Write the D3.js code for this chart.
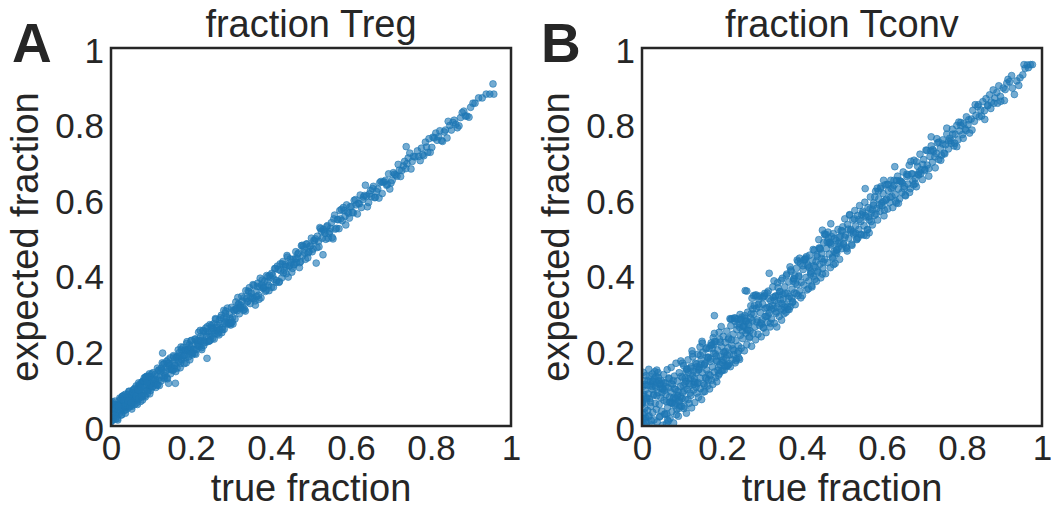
<!DOCTYPE html>
<html>
<head>
<meta charset="utf-8">
<script src="https://cdn.jsdelivr.net/npm/d3@7"></script>
<style>
  html, body { margin: 0; padding: 0; background: #ffffff; }
  svg { display: block; }
  text { font-family: "Liberation Sans", Arial, sans-serif; fill: #262626; }
</style>
</head>
<body>
<svg id="chart" width="1051" height="509"></svg>
<script>
// ---------- data ----------
const panelLetters = ["A", "B"];
const panelTitles = ["fraction Treg", "fraction Tconv"];
const xLabel = "true fraction";
const yLabel = "expected fraction";
const tickValues = [0, 0.2, 0.4, 0.6, 0.8, 1];
const tickLabels = ["0", "0.2", "0.4", "0.6", "0.8", "1"];

// panel A: [true fraction, expected fraction]
const tregPoints = [
[.001,.012],[.003,.049],[.004,.033],[.006,.057],[.007,.023],[.009,.043],[.011,.018],[.012,.055],
[.014,.036],[.016,.048],[.017,.016],[.019,.057],[.021,.033],[.022,.068],[.024,.048],[.026,.029],
[.027,.055],[.029,.047],[.031,.074],[.033,.041],[.034,.066],[.036,.034],[.038,.076],[.040,.055],
[.041,.065],[.043,.048],[.045,.091],[.047,.075],[.048,.058],[.050,.084],[.052,.052],[.054,.076],
[.055,.095],[.057,.063],[.059,.085],[.061,.077],[.063,.106],[.064,.061],[.066,.096],[.068,.079],
[.070,.106],[.072,.075],[.073,.096],[.075,.092],[.077,.116],[.079,.078],[.081,.109],[.083,.091],
[.084,.117],[.086,.077],[.088,.107],[.090,.132],[.092,.096],[.094,.118],[.095,.107],[.097,.131],
[.099,.094],
[.000,.012],[.002,.032],[.005,.017],[.008,.043],[.010,.066],[.013,.030],[.015,.056],[.018,.052],
[.020,.042],[.023,.057],[.025,.072],[.028,.078],[.030,.067],[.032,.081],[.035,.048],[.037,.043],
[.039,.051],[.042,.084],[.044,.062],[.046,.075],[.049,.054],[.051,.080],[.053,.070],[.056,.066],
[.058,.068],[.060,.100],[.062,.072],[.065,.069],[.067,.100],[.069,.114],[.071,.092],[.074,.065],
[.076,.078],[.078,.116],[.080,.118],[.082,.096],[.085,.081],[.087,.130],[.089,.120],[.091,.086],
[.093,.118],[.096,.138],[.098,.104],
[.001,.061],[.004,.064],[.006,.029],[.009,.056],[.012,.047],[.014,.025],[.016,.020],[.019,.053],
[.022,.074],[.024,.040],[.027,.030],[.029,.079],[.031,.068],[.034,.053],[.036,.084],[.038,.056],
[.041,.059],[.043,.067],[.045,.092],[.047,.052],[.050,.061],[.052,.045],[.054,.089],[.057,.097],
[.059,.057],[.061,.089],[.063,.079],[.066,.057],[.068,.095],[.070,.073],[.072,.111],[.075,.102],
[.077,.079],[.079,.069],[.081,.119],[.083,.127],[.086,.129],[.088,.125],[.090,.115],[.092,.093],
[.095,.132],[.097,.085],[.099,.105],
[.101,.122],[.103,.103],[.105,.141],[.107,.119],[.110,.136],[.112,.102],[.114,.132],[.116,.153],
[.118,.121],[.120,.148],[.122,.129],[.125,.119],[.127,.148],[.129,.193],[.131,.142],[.133,.165],
[.135,.133],[.138,.156],[.140,.128],[.142,.166],[.144,.113],[.146,.151],[.148,.180],[.150,.149],
[.153,.166],[.155,.147],[.157,.183],[.159,.165],[.161,.113],[.163,.182],[.165,.153],[.168,.201],
[.170,.170],[.172,.185],[.174,.166],[.176,.202],[.178,.183],[.181,.199],[.183,.165],[.185,.200],
[.187,.181],[.189,.218],[.192,.199],[.194,.183],[.196,.215],[.198,.197],
[.100,.112],[.102,.138],[.104,.104],[.106,.123],[.108,.113],[.111,.122],[.113,.112],[.115,.108],
[.117,.109],[.119,.147],[.121,.107],[.124,.146],[.126,.153],[.128,.167],[.130,.163],[.132,.129],
[.134,.125],[.137,.145],[.139,.171],[.141,.125],[.143,.175],[.145,.165],[.147,.160],[.149,.138],
[.152,.153],[.154,.149],[.156,.186],[.158,.152],[.160,.160],[.162,.144],[.164,.182],[.167,.184],
[.169,.174],[.171,.194],[.173,.154],[.175,.209],[.177,.175],[.180,.208],[.182,.186],[.184,.188],
[.186,.201],[.188,.167],[.190,.223],[.193,.202],[.195,.204],[.197,.175],[.199,.207],
[.201,.226],[.203,.188],[.205,.214],[.208,.202],[.210,.230],[.212,.190],[.215,.226],[.217,.216],
[.219,.248],[.222,.210],[.224,.237],[.226,.207],[.229,.233],[.231,.251],[.233,.226],[.236,.250],
[.238,.222],[.240,.179],[.242,.249],[.245,.243],[.247,.268],[.250,.237],[.252,.261],[.254,.232],
[.257,.271],[.259,.252],[.261,.284],[.264,.252],[.266,.267],[.269,.248],[.271,.281],[.273,.270],
[.276,.293],[.278,.261],[.281,.285],[.283,.256],[.286,.298],[.288,.277],[.291,.312],[.293,.273],
[.296,.295],[.298,.284],
[.200,.226],[.202,.192],[.204,.194],[.207,.202],[.209,.192],[.211,.230],[.214,.203],[.216,.222],
[.218,.212],[.220,.226],[.223,.253],[.225,.225],[.227,.202],[.230,.253],[.232,.213],[.234,.221],
[.237,.259],[.239,.237],[.241,.263],[.244,.224],[.246,.225],[.248,.227],[.251,.266],[.253,.250],
[.255,.258],[.258,.230],[.260,.244],[.262,.282],[.265,.261],[.267,.244],[.270,.241],[.272,.255],
[.274,.287],[.277,.247],[.279,.255],[.282,.306],[.284,.272],[.287,.304],[.289,.288],[.292,.273],
[.294,.269],[.297,.271],[.299,.267],
[.301,.314],[.304,.287],[.307,.307],[.310,.283],[.312,.328],[.315,.305],[.318,.322],[.321,.297],
[.324,.319],[.327,.343],[.330,.313],[.333,.339],[.336,.304],[.339,.337],[.342,.330],[.345,.355],
[.348,.324],[.351,.351],[.354,.338],[.357,.372],[.360,.331],[.363,.355],[.366,.369],[.369,.346],
[.372,.368],[.375,.339],[.378,.386],[.381,.366],[.384,.383],[.388,.359],[.391,.382],[.394,.372],
[.397,.399],
[.300,.272],[.303,.275],[.305,.270],[.308,.305],[.311,.308],[.314,.311],[.317,.340],[.320,.323],
[.322,.312],[.325,.314],[.328,.330],[.331,.306],[.334,.309],[.337,.358],[.340,.328],[.343,.357],
[.346,.366],[.349,.342],[.352,.339],[.355,.374],[.358,.337],[.361,.320],[.364,.343],[.367,.378],
[.370,.335],[.373,.391],[.376,.373],[.380,.364],[.383,.367],[.386,.356],[.389,.398],[.392,.395],
[.395,.358],[.398,.393],
[.401,.367],[.404,.398],[.408,.388],[.411,.417],[.414,.385],[.418,.414],[.421,.382],[.424,.411],
[.428,.429],[.431,.405],[.435,.427],[.438,.403],[.441,.447],[.445,.423],[.448,.442],[.452,.407],
[.455,.441],[.458,.427],[.462,.461],[.465,.443],[.469,.458],[.472,.432],[.476,.477],[.479,.450],
[.483,.468],[.486,.441],[.490,.482],[.493,.458],[.497,.475],
[.402,.404],[.406,.367],[.409,.416],[.413,.380],[.416,.423],[.420,.380],[.423,.429],[.427,.392],
[.430,.435],[.433,.412],[.437,.422],[.440,.451],[.443,.394],[.447,.424],[.450,.433],[.454,.417],
[.457,.426],[.461,.443],[.464,.433],[.467,.455],[.471,.419],[.474,.435],[.478,.478],[.481,.475],
[.485,.458],[.488,.481],[.492,.445],[.495,.461],[.499,.477],
[.501,.497],[.505,.468],[.509,.490],[.513,.431],[.516,.502],[.520,.474],[.524,.522],[.528,.497],
[.530,.453],[.533,.515],[.537,.494],[.541,.530],[.545,.509],[.549,.523],[.553,.499],[.557,.548],
[.561,.521],[.566,.546],[.570,.522],[.574,.548],[.578,.543],[.583,.570],[.587,.532],[.591,.566],
[.596,.550],
[.503,.461],[.507,.491],[.511,.495],[.515,.472],[.519,.489],[.522,.525],[.526,.515],[.531,.520],
[.535,.510],[.539,.527],[.543,.497],[.547,.514],[.551,.538],[.555,.495],[.559,.558],[.564,.523],
[.568,.546],[.572,.570],[.576,.573],[.581,.578],[.585,.555],[.589,.585],[.594,.563],[.598,.580],
[.601,.581],[.606,.564],[.611,.599],[.616,.561],[.621,.588],[.626,.578],[.631,.606],[.636,.637],
[.641,.580],[.646,.614],[.651,.607],[.656,.634],[.661,.605],[.667,.627],[.672,.644],[.678,.615],
[.683,.646],[.689,.637],[.694,.667],
[.603,.565],[.608,.597],[.613,.585],[.618,.589],[.623,.611],[.629,.599],[.634,.610],[.639,.608],
[.644,.591],[.649,.623],[.654,.628],[.659,.604],[.664,.620],[.670,.603],[.675,.647],[.680,.645],
[.686,.650],[.691,.639],[.697,.627],
[.700,.643],[.706,.670],[.712,.664],[.718,.692],[.724,.660],[.731,.688],[.737,.681],[.738,.739],
[.743,.709],[.750,.680],[.756,.713],[.769,.713],[.776,.735],[.782,.715],[.789,.738],[.795,.760],
[.703,.650],[.709,.666],[.715,.661],[.721,.677],[.727,.676],[.734,.700],[.740,.694],[.747,.722],
[.753,.700],[.760,.712],[.766,.728],[.773,.702],[.779,.718],[.786,.751],[.792,.724],[.798,.724],
[.802,.737],[.808,.762],[.815,.756],[.822,.781],[.829,.753],[.836,.783],[.843,.806],[.851,.783],
[.858,.809],[.866,.789],[.874,.816],[.882,.833],[.890,.820],[.899,.843],[.910,.854],[.919,.868],
[.938,.878],[.947,.878],[.955,.905],[.957,.878],
[.805,.764],[.812,.775],[.819,.765],[.826,.755],[.833,.778],[.840,.762],[.847,.795],[.855,.803],
[.862,.798],[.870,.794],[.878,.829],[.886,.820],[.895,.817],[.905,.854],[.928,.868]
];

// panel B: [true fraction, expected fraction]
const tconvPoints = [
[.000,.012],[.001,.058],[.002,.105],[.002,.031],[.003,.142],[.004,.079],[.005,.004],[.006,.120],
[.007,.047],[.008,.094],[.009,.021],[.010,.133],[.011,.066],[.012,.009],[.013,.108],[.014,.041],
[.016,.085],[.017,.150],[.018,.027],[.019,.072],[.021,.117],[.022,.052],[.023,.003],[.025,.097],
[.026,.138],[.027,.036],[.029,.081],[.030,.016],[.031,.125],[.033,.060],[.034,.103],[.036,.044],
[.037,.148],[.038,.011],[.040,.088],[.041,.129],[.043,.057],[.044,.024],[.046,.112],[.047,.075],
[.049,.039],
[.000,.062],[.001,.063],[.003,.020],[.004,.084],[.006,.035],[.008,.110],[.009,.014],[.011,.075],
[.013,.072],[.015,.120],[.016,.024],[.018,.132],[.020,.108],[.021,.063],[.023,.014],[.025,.104],
[.026,.120],[.028,.117],[.030,.084],[.032,.144],[.033,.107],[.035,.131],[.037,.080],[.038,.114],
[.040,.141],[.042,.120],[.044,.110],[.045,.026],[.047,.099],[.049,.119],
[.051,.099],[.052,.002],[.054,.136],[.055,.068],[.057,.031],[.058,.114],[.060,.083],[.061,.006],
[.063,.149],[.064,.049],[.066,.101],[.067,.127],[.069,.063],[.070,.020],[.072,.090],[.073,.155],
[.075,.038],[.076,.110],[.078,.073],[.079,.008],[.081,.132],[.082,.055],[.084,.097],[.085,.166],
[.087,.044],[.088,.119],[.090,.081],[.091,.026],[.093,.141],[.094,.066],[.096,.104],[.097,.172],
[.099,.052],
[.050,.088],[.052,.098],[.054,.114],[.056,.094],[.057,.032],[.059,.104],[.061,.064],[.062,.032],
[.064,.016],[.066,.013],[.068,.125],[.069,.077],[.071,.063],[.073,.113],[.074,.061],[.076,.060],
[.078,.120],[.080,.076],[.081,.098],[.083,.061],[.085,.073],[.086,.030],[.088,.080],[.090,.092],
[.092,.064],[.093,.047],[.095,.053],[.097,.077],[.098,.131],[.100,.073],
[.101,.128],[.102,.089],[.104,.160],[.105,.046],[.107,.113],[.108,.071],[.110,.144],[.111,.034],
[.113,.097],[.115,.175],[.116,.125],[.118,.060],[.119,.106],[.121,.153],[.122,.081],[.124,.048],
[.126,.134],[.127,.183],[.129,.095],[.130,.117],[.132,.062],[.133,.166],[.135,.141],[.137,.087],
[.138,.112],[.140,.190],[.141,.076],[.143,.150],[.145,.127],[.146,.099],[.148,.176],[.149,.070],
[.101,.166],[.103,.108],[.105,.093],[.106,.052],[.108,.126],[.110,.118],[.111,.150],[.113,.151],
[.115,.070],[.116,.142],[.118,.112],[.120,.087],[.121,.126],[.123,.157],[.125,.199],[.126,.191],
[.128,.145],[.130,.110],[.131,.125],[.133,.115],[.135,.103],[.136,.164],[.138,.157],[.140,.115],
[.141,.148],[.143,.156],[.145,.209],[.146,.187],[.148,.164],[.150,.224],
[.151,.141],[.152,.195],[.154,.112],[.156,.163],[.157,.091],[.159,.128],[.161,.207],[.162,.148],
[.164,.106],[.166,.182],[.167,.137],[.169,.098],[.171,.171],[.172,.213],[.174,.121],[.176,.156],
[.177,.110],[.179,.192],[.181,.143],[.181,.292],[.182,.224],[.184,.128],[.186,.173],[.187,.117],
[.189,.201],[.191,.155],[.193,.138],[.194,.229],[.196,.184],[.198,.145],[.199,.210],
[.151,.219],[.153,.090],[.155,.161],[.156,.108],[.158,.166],[.160,.204],[.161,.125],[.163,.182],
[.165,.180],[.166,.122],[.168,.205],[.170,.134],[.171,.177],[.173,.220],[.175,.215],[.176,.206],
[.178,.234],[.180,.216],[.181,.245],[.183,.191],[.185,.223],[.186,.185],[.188,.171],[.190,.147],
[.191,.134],[.193,.248],[.195,.163],[.196,.222],[.198,.263],[.200,.174],
[.201,.168],[.203,.237],[.205,.196],[.206,.148],[.208,.221],[.210,.179],[.212,.251],[.214,.160],
[.215,.207],[.217,.233],[.219,.188],[.221,.157],[.222,.265],[.224,.214],[.226,.175],[.228,.243],
[.230,.200],[.232,.277],[.233,.167],[.235,.226],[.237,.255],[.239,.193],[.241,.212],[.242,.180],
[.243,.271],[.244,.176],[.246,.240],[.248,.206],[.250,.288],
[.202,.148],[.204,.176],[.205,.193],[.207,.159],[.209,.197],[.211,.158],[.213,.188],[.215,.161],
[.216,.230],[.218,.165],[.220,.284],[.222,.282],[.224,.228],[.225,.284],[.227,.204],[.229,.188],
[.231,.286],[.233,.285],[.235,.173],[.236,.178],[.238,.267],[.240,.283],[.242,.198],[.244,.261],
[.245,.295],[.247,.283],[.249,.281],
[.252,.231],[.254,.262],[.256,.199],[.258,.284],[.258,.358],[.260,.246],[.262,.215],[.262,.357],
[.264,.301],[.266,.268],[.268,.233],[.270,.252],[.272,.318],[.274,.211],[.276,.279],[.278,.245],
[.280,.296],[.282,.262],[.284,.228],[.286,.311],[.288,.281],[.290,.243],[.292,.335],[.294,.266],
[.296,.300],[.298,.236],[.300,.281],
[.251,.251],[.253,.264],[.255,.265],[.257,.292],[.259,.277],[.261,.277],[.263,.253],[.265,.255],
[.267,.274],[.269,.236],[.271,.286],[.273,.297],[.275,.338],[.277,.310],[.279,.345],[.281,.319],
[.283,.345],[.285,.347],[.287,.275],[.289,.343],[.291,.322],[.293,.315],[.295,.344],[.297,.273],
[.299,.270],
[.302,.322],[.304,.259],[.306,.345],[.308,.290],[.310,.247],[.312,.313],[.314,.274],[.316,.357],
[.318,.299],[.318,.404],[.320,.262],[.322,.331],[.324,.283],[.327,.368],[.329,.311],[.331,.272],
[.333,.343],[.335,.298],[.337,.262],[.339,.379],[.341,.325],[.343,.290],[.345,.356],[.347,.309],
[.349,.280],
[.301,.340],[.303,.261],[.305,.342],[.307,.351],[.309,.311],[.311,.290],[.313,.352],[.315,.292],
[.317,.337],[.319,.315],[.321,.272],[.323,.309],[.326,.319],[.328,.340],[.330,.384],[.332,.332],
[.334,.344],[.336,.302],[.338,.315],[.340,.366],[.342,.346],[.344,.355],[.346,.334],[.348,.385],
[.351,.391],[.353,.336],[.355,.297],[.357,.368],[.359,.320],[.361,.398],[.363,.351],[.365,.309],
[.367,.381],[.369,.343],[.371,.316],[.373,.409],[.375,.362],[.377,.329],[.379,.389],[.381,.352],
[.383,.321],[.386,.417],[.388,.374],[.390,.345],[.392,.398],[.394,.357],[.396,.431],[.398,.380],
[.350,.324],[.352,.349],[.354,.306],[.356,.315],[.358,.351],[.360,.301],[.362,.402],[.364,.315],
[.366,.337],[.368,.308],[.370,.421],[.372,.413],[.374,.338],[.376,.327],[.378,.383],[.380,.390],
[.382,.398],[.384,.378],[.386,.350],[.388,.439],[.390,.435],[.392,.395],[.394,.444],[.397,.339],
[.401,.345],[.403,.414],[.405,.373],[.408,.440],[.410,.393],[.412,.360],[.415,.426],[.417,.384],
[.419,.452],[.422,.409],[.424,.371],[.426,.437],[.429,.396],[.431,.465],[.433,.420],[.436,.383],
[.438,.448],[.440,.410],[.443,.471],[.445,.428],[.447,.392],[.449,.456],
[.402,.424],[.404,.439],[.407,.441],[.409,.444],[.411,.448],[.414,.423],[.416,.363],[.418,.419],
[.421,.402],[.423,.405],[.425,.368],[.428,.467],[.430,.424],[.432,.388],[.435,.435],[.437,.453],
[.439,.407],[.442,.493],[.444,.470],[.446,.468],[.449,.443],
[.451,.518],[.452,.417],[.454,.485],[.457,.441],[.459,.403],[.461,.469],[.464,.432],[.466,.497],
[.468,.455],[.471,.419],[.472,.535],[.473,.479],[.476,.447],[.478,.509],[.480,.462],[.483,.430],
[.485,.491],[.487,.457],[.490,.520],[.492,.474],[.494,.441],[.497,.503],[.499,.469],
[.451,.402],[.453,.434],[.456,.508],[.458,.505],[.460,.507],[.463,.487],[.465,.513],[.467,.485],
[.470,.486],[.472,.482],[.474,.501],[.477,.444],[.479,.427],[.481,.496],[.484,.458],[.486,.465],
[.488,.467],[.491,.483],[.493,.499],[.495,.485],[.498,.517],
[.502,.527],[.504,.483],[.507,.548],[.509,.505],[.512,.469],[.514,.533],[.517,.497],[.519,.559],
[.522,.516],[.524,.481],[.527,.545],[.529,.508],[.532,.570],[.534,.529],[.537,.495],[.539,.557],
[.542,.520],[.544,.583],[.547,.541],[.549,.506],
[.501,.516],[.504,.480],[.507,.499],[.510,.473],[.513,.463],[.516,.521],[.519,.558],[.522,.520],
[.525,.478],[.528,.513],[.531,.548],[.534,.510],[.537,.493],[.540,.498],[.543,.546],[.546,.507],
[.549,.559],
[.552,.568],[.555,.530],[.557,.592],[.558,.628],[.560,.553],[.563,.519],[.565,.578],[.568,.545],
[.568,.511],[.571,.606],[.573,.563],[.576,.532],[.579,.590],[.581,.557],[.584,.621],[.587,.575],
[.589,.545],[.592,.601],[.595,.568],[.597,.633],
[.552,.564],[.555,.505],[.558,.557],[.561,.504],[.564,.520],[.567,.553],[.570,.574],[.573,.541],
[.576,.572],[.579,.584],[.582,.606],[.585,.561],[.588,.629],[.591,.621],[.594,.585],[.597,.629],
[.599,.589],
[.600,.583],[.603,.615],[.604,.650],[.605,.556],[.608,.638],[.611,.600],[.614,.574],[.616,.622],
[.619,.591],[.622,.650],[.625,.607],[.627,.578],[.630,.637],[.632,.686],[.633,.612],[.636,.590],
[.639,.661],[.641,.627],[.644,.601],[.647,.647],
[.602,.593],[.606,.571],[.609,.597],[.613,.639],[.616,.639],[.620,.605],[.623,.628],[.627,.631],
[.630,.650],[.634,.595],[.637,.649],[.641,.589],[.644,.649],[.648,.646],
[.650,.618],[.653,.672],[.656,.634],[.659,.609],[.662,.660],[.665,.640],[.668,.690],[.671,.628],
[.674,.667],[.677,.648],[.680,.703],[.683,.655],[.686,.633],[.689,.687],[.692,.664],[.695,.719],
[.698,.678],
[.651,.643],[.655,.628],[.658,.611],[.662,.666],[.665,.664],[.669,.618],[.672,.700],[.676,.667],
[.679,.638],[.683,.641],[.686,.699],[.690,.666],[.693,.672],[.697,.668],
[.701,.652],[.704,.705],[.707,.676],[.710,.730],[.713,.690],[.717,.661],[.720,.713],[.723,.741],
[.723,.765],[.726,.698],[.729,.727],[.733,.683],[.736,.721],[.739,.749],[.742,.705],[.746,.735],
[.749,.716],
[.702,.692],[.707,.679],[.712,.729],[.717,.681],[.722,.728],[.727,.731],[.732,.712],[.737,.760],
[.742,.751],[.747,.703],
[.752,.757],[.755,.722],[.759,.744],[.762,.772],[.766,.733],[.769,.761],[.773,.748],[.776,.785],
[.780,.741],[.783,.772],[.787,.795],[.790,.757],[.794,.781],[.797,.803],
[.752,.746],[.757,.720],[.762,.788],[.767,.754],[.772,.755],[.777,.772],[.782,.748],[.787,.739],
[.792,.804],[.797,.795],
[.801,.771],[.804,.800],[.808,.786],[.811,.818],[.815,.797],[.819,.775],[.823,.812],[.827,.835],
[.831,.806],[.835,.822],[.839,.845],[.843,.818],[.847,.836],
[.803,.761],[.810,.782],[.817,.810],[.825,.783],[.833,.850],[.841,.850],[.849,.820],[.857,.811],
[.852,.858],[.856,.834],[.860,.866],[.865,.849],[.869,.876],[.873,.857],[.878,.889],[.882,.868],
[.887,.882],[.892,.900],[.896,.872],
[.864,.847],[.872,.840],[.880,.854],[.889,.854],[.897,.859],[.906,.861],[.915,.917],[.924,.927],
[.903,.894],[.908,.890],[.912,.907],[.919,.911],[.926,.894],[.931,.877],[.937,.913],[.945,.921],
[.952,.929],[.958,.946],[.963,.955],[.966,.948],[.971,.956],[.976,.956],
[.942,.901],[.955,.956]
];

const panelData = [tregPoints, tconvPoints];

// ---------- layout ----------
const svg = d3.select("#chart");
const plotLefts = [111, 642];
const plotW = 400, plotTop = 48, plotH = 378;
const letterX = [12, 541];
const ink = "#262626";
const pointColor = "#1f77b4";

panelData.forEach((pts, i) => {
  const left = plotLefts[i];
  const x = d3.scaleLinear().domain([0, 1]).range([left, left + plotW]);
  const y = d3.scaleLinear().domain([0, 1]).range([plotTop + plotH, plotTop]);

  const clipId = "clip" + i;
  svg.append("clipPath").attr("id", clipId)
    .append("rect").attr("x", left).attr("y", plotTop).attr("width", plotW).attr("height", plotH);

  svg.append("g").attr("clip-path", `url(#${clipId})`)
    .selectAll("circle").data(pts).join("circle")
    .attr("cx", d => x(d[0]))
    .attr("cy", d => y(d[1]))
    .attr("r", 3.4)
    .attr("fill", pointColor)
    .attr("fill-opacity", 0.62)
    .attr("stroke", pointColor)
    .attr("stroke-opacity", 0.75)
    .attr("stroke-width", 0.8);

  // frame
  svg.append("rect")
    .attr("x", left).attr("y", plotTop).attr("width", plotW).attr("height", plotH)
    .attr("fill", "none").attr("stroke", ink).attr("stroke-width", 2.5);

  // axes
  const xAxis = svg.append("g").attr("transform", `translate(0,${plotTop + plotH})`)
    .call(d3.axisBottom(x).tickValues(tickValues).tickFormat((d, k) => tickLabels[k]).tickSize(0).tickPadding(9));
  const yAxis = svg.append("g").attr("transform", `translate(${left},0)`)
    .call(d3.axisLeft(y).tickValues(tickValues).tickFormat((d, k) => tickLabels[k]).tickSize(0).tickPadding(7));
  [xAxis, yAxis].forEach(g => {
    g.select(".domain").remove();
    g.selectAll("text")
      .attr("fill", ink)
      .style("font-family", '"Liberation Sans", Arial, sans-serif')
      .style("font-size", "35px");
  });
  yAxis.selectAll("text").attr("dy", "0.4em");

  // title
  svg.append("text")
    .attr("x", left + plotW / 2).attr("y", 37)
    .attr("text-anchor", "middle")
    .style("font-size", "38px")
    .text(panelTitles[i]);

  // x label
  svg.append("text")
    .attr("x", left + plotW / 2).attr("y", 501)
    .attr("text-anchor", "middle")
    .style("font-size", "38px")
    .text(xLabel);

  // y label
  svg.append("text")
    .attr("transform", `translate(${left - 73},${plotTop + plotH / 2}) rotate(-90)`)
    .attr("text-anchor", "middle")
    .style("font-size", "38px")
    .text(yLabel);

  // panel letter
  svg.append("text")
    .attr("x", letterX[i]).attr("y", 62)
    .style("font-size", "55px")
    .style("font-weight", "bold")
    .text(panelLetters[i]);
});
</script>
</body>
</html>
